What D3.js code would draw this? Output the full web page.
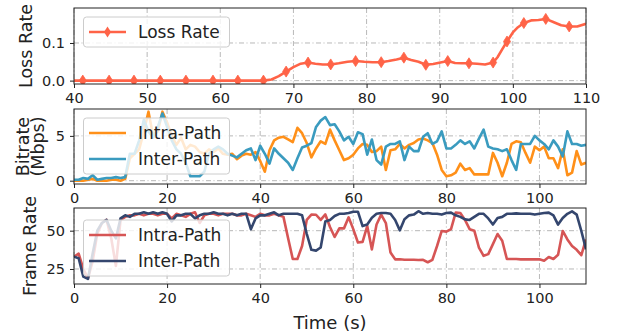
<!DOCTYPE html>
<html>
<head>
<meta charset="utf-8">
<script src="https://cdn.jsdelivr.net/npm/d3@7"></script>
<style>
  body { margin: 0; background: #fff; }
  svg { display: block; font-family: "DejaVu Sans", sans-serif; }
</style>
</head>
<body>
<svg id="chart" width="618" height="335"></svg>
<script>
// loss rate samples (time in s, rate)
const lossTime = [40.0, 41.2, 42.4, 43.6, 44.8, 45.9, 47.1, 48.2, 49.4, 50.6, 51.8, 53.0, 54.1, 55.3, 56.5, 57.8,
  59.0, 60.1, 61.3, 62.4, 63.6, 64.7, 65.9, 67.0, 68.0, 69.0, 70.0, 71.0, 72.0, 73.0, 74.0, 75.1, 76.2, 77.4,
  78.5, 79.7, 80.8, 82.0, 83.0, 84.1, 85.1, 86.1, 87.1, 88.1, 89.1, 90.1, 91.1, 92.1, 93.0, 94.0, 95.1, 96.2,
  97.3, 97.9, 98.6, 99.2, 100.0, 100.7, 101.5, 102.5, 103.5, 104.5, 105.6, 106.6, 107.7, 108.8, 110.0];
const lossRate = [0, 0, 0, 0, 0, 0, 0, 0, 0, 0, 0, 0, 0, 0, 0, 0,
  0, 0, 0, 0, 0, 0, 0, 0.003, 0.012, 0.024, 0.036, 0.045, 0.048, 0.045, 0.043, 0.043, 0.046, 0.05,
  0.052, 0.05, 0.049, 0.049, 0.052, 0.056, 0.061, 0.055, 0.05, 0.042, 0.044, 0.048, 0.052, 0.047, 0.046, 0.046, 0.045, 0.043,
  0.048, 0.062, 0.085, 0.104, 0.128, 0.142, 0.153, 0.16, 0.161, 0.164, 0.155, 0.147, 0.144, 0.144, 0.151];
const lossMarkEvery = 3;

// bitrate / frame rate sampled every second, 0..110 s
const bitrateIntra = [0, 0, 0, 0.1, 0.2, 0, 0, 0, 0.1, 0.1, 0, 0.2, 2.5, 3.0, 3.5, 5.5, 7.7, 5.0, 5.5, 7.7,
  6.5, 5.0, 4.0, 4.8, 3.5, 4.0, 3.8, 3.2, 3.0, 3.5, 3.2, 3.6, 3.0, 2.9, 3.0, 2.4, 2.8, 3.0, 2.9, 3.2,
  2.2, 1.0, 3.4, 4.5, 4.8, 4.9, 4.6, 4.3, 5.9, 5.3, 4.2, 2.6, 3.6, 4.4, 4.1, 5.7, 4.5, 3.4, 2.3, 2.5,
  2.9, 3.6, 4.1, 4.0, 3.2, 3.3, 3.8, 1.2, 3.4, 3.5, 4.1, 3.6, 4.0, 4.2, 4.6, 4.7, 4.5, 4.2, 2.9, 1.2,
  0.5, 0.6, 0.9, 1.9, 1.2, 1.4, 0.7, 0.7, 0.7, 0.7, 3.1, 2.0, 0.5, 2.0, 4.1, 4.4, 4.3, 3.1, 2.0, 3.8,
  3.4, 3.8, 2.5, 2.5, 1.4, 3.5, 0.6, 0.9, 3.3, 1.8, 2.0];
const bitrateInter = [0.1, 0.1, 0.3, 0.2, 0.6, 0.1, 0.2, 0.3, 0.3, 0.4, 0.3, 0.4, 3.0, 3.0, 4.5, 6.8, 5.5, 4.8, 6.0, 7.5,
  6.0, 4.5, 3.5, 3.0, 2.0, 0.5, 0.5, 0.5, 1.0, 3.0, 3.5, 3.8, 3.5, 3.0, 2.8, 2.6, 3.0, 3.4, 3.6, 2.3,
  3.9, 3.0, 1.9, 3.6, 3.0, 2.5, 2.0, 1.2, 2.5, 3.7, 3.9, 4.2, 6.0, 6.7, 7.1, 6.2, 6.3, 5.5, 4.5, 4.9,
  4.1, 5.4, 5.2, 2.9, 4.6, 2.3, 1.8, 3.8, 4.1, 4.1, 4.4, 2.3, 3.8, 3.3, 3.3, 4.9, 5.3, 4.1, 4.4, 5.5,
  3.6, 3.6, 4.0, 4.5, 4.1, 4.4, 3.6, 4.7, 5.7, 3.8, 3.6, 3.5, 3.3, 3.5, 2.3, 1.2, 4.1, 4.1, 4.1, 5.0,
  4.5, 4.1, 3.5, 4.5, 3.8, 2.7, 5.5, 4.1, 4.1, 3.9, 4.0];
const fpsIntra = [33, 35, 25, 19, 30, 48, 55, 57, 45, 27, 57, 59, 60, 60, 61, 60, 61, 61, 60, 61,
  61, 58, 61, 60, 59, 61, 62, 55, 60, 61, 61, 60, 61, 61, 61, 60, 60, 61, 60, 59,
  61, 60, 60, 61, 60, 59, 45, 31.5, 31.5, 40, 57, 60.5, 60.4, 57, 60.6, 52.4, 45.9, 51.5, 51.5, 58.7,
  51, 42.3, 42.7, 53, 37.8, 54, 60.5, 55, 35.7, 31.3, 31.3, 31, 31, 31, 30.9, 31, 29.4, 31, 40, 49.8,
  49.4, 51, 61.8, 61.5, 57, 51, 50, 39, 33.6, 34.7, 41.2, 47.8, 43.4, 31.5, 31.5, 31.5, 31.3, 31.3, 31.3, 31.3,
  31.3, 30.4, 32.8, 31.5, 34.3, 49.8, 44.3, 40, 37.5, 34, 44.3];
const fpsInter = [33, 32, 20, 18.5, 35, 50, 55, 57, 50, 45, 58, 60, 59, 61, 61, 62, 61, 62, 61, 62,
  61, 56, 60, 60, 61, 61, 58, 60, 61, 61, 62, 61, 61, 60, 61, 60, 61, 61, 51, 58,
  60, 60, 61, 62, 60, 61, 61, 61, 61, 60, 48, 37.5, 37, 39, 56, 57, 59.6, 61, 61, 61.5,
  62.4, 62.4, 53, 54, 58.5, 61, 61.5, 61.5, 61, 57, 50.2, 57.5, 60, 60.5, 62.7, 61, 61.5, 61, 61, 60.5,
  61.5, 61.8, 60, 59, 57.4, 57, 59, 61, 61, 58, 54, 58.3, 59, 61, 61, 61.3, 61, 61, 61, 60.5,
  61, 61.5, 61.8, 60, 54, 58.3, 61, 62.6, 60.5, 49.8, 37.8];

const lossTicksX = [40, 50, 60, 70, 80, 90, 100, 110];
const lossTicksY = [0.0, 0.1];
const timeTicks = [0, 20, 40, 60, 80, 100];
const bitrateTicks = [0, 5];
const fpsTicks = [25, 50];

const svg = d3.select('#chart');
const left = 74, right = 586;
const gridDash = '5,2.5,1,2.5';

function drawPanel(opt) {
  const x = d3.scaleLinear().domain(opt.xDomain).range([left, right]);
  const y = d3.scaleLinear().domain(opt.yDomain).range([opt.bottom, opt.top]);
  const g = svg.append('g');

  // grid
  g.selectAll('.gx').data(opt.xTicks).enter().append('line')
    .attr('x1', d => x(d)).attr('x2', d => x(d))
    .attr('y1', opt.top).attr('y2', opt.bottom)
    .attr('stroke', '#b0b0b0').attr('stroke-width', 0.9).attr('stroke-dasharray', gridDash);
  g.selectAll('.gy').data(opt.yTicks).enter().append('line')
    .attr('x1', left).attr('x2', right)
    .attr('y1', d => y(d)).attr('y2', d => y(d))
    .attr('stroke', '#b0b0b0').attr('stroke-width', 0.9).attr('stroke-dasharray', gridDash);

  // series
  const clipId = 'clip' + opt.top;
  svg.append('clipPath').attr('id', clipId).append('rect')
    .attr('x', left).attr('y', opt.top).attr('width', right - left).attr('height', opt.bottom - opt.top);
  const lines = g.append('g').attr('clip-path', `url(#${clipId})`);
  opt.series.forEach(s => {
    const pts = s.values.map((v, i) => [s.times ? s.times[i] : i, v]);
    lines.append('path').datum(pts)
      .attr('fill', 'none').attr('stroke', s.color).attr('stroke-width', 2.6)
      .attr('stroke-linejoin', 'round')
      .attr('d', d3.line().x(d => x(d[0])).y(d => y(d[1])));
    if (s.markEvery) {
      lines.selectAll(null).data(pts.filter((d, i) => i % s.markEvery === 1)).enter()
        .append('path')
        .attr('transform', d => `translate(${x(d[0])},${y(d[1])})`)
        .attr('d', 'M0,-5.5L3.5,0L0,5.5L-3.5,0Z')
        .attr('fill', s.color).attr('stroke', s.color).attr('stroke-width', 0.8);
    }
  });

  // axes
  const ax = g.append('g').attr('transform', `translate(0,${opt.bottom})`)
    .call(d3.axisBottom(x).tickValues(opt.xTicks).tickSize(4).tickPadding(4).tickSizeOuter(0));
  const ay = g.append('g').attr('transform', `translate(${left},0)`)
    .call(d3.axisLeft(y).tickValues(opt.yTicks).tickFormat(opt.yFormat).tickSize(4).tickPadding(5).tickSizeOuter(0));
  [ax, ay].forEach(a => {
    a.select('.domain').remove();
    a.selectAll('line').attr('stroke', '#222').attr('stroke-width', 1);
    a.selectAll('text').attr('font-size', 14.5).attr('fill', '#222')
      .attr('font-family', '"DejaVu Sans", sans-serif');
  });
  ax.selectAll('text').attr('dy', '0.75em');

  g.append('rect').attr('x', left).attr('y', opt.top)
    .attr('width', right - left).attr('height', opt.bottom - opt.top)
    .attr('fill', 'none').attr('stroke', '#222').attr('stroke-width', 1);

  // y label
  const cy = (opt.top + opt.bottom) / 2;
  opt.yLabel.forEach((t, i) => {
    svg.append('text')
      .attr('transform', `translate(${opt.labelX[i]},${cy}) rotate(-90)`)
      .attr('text-anchor', 'middle').attr('font-size', 17.5).attr('fill', '#222')
      .text(t);
  });

  // legend
  const lg = svg.append('g');
  const lh = opt.series.length * 26 + 4;
  lg.append('rect').attr('x', 83.5).attr('y', opt.legendTop).attr('width', 146).attr('height', lh)
    .attr('rx', 3).attr('fill', 'rgba(255,255,255,0.8)').attr('stroke', '#cccccc');
  opt.series.forEach((s, i) => {
    const ly = opt.legendTop + 15 + i * 26;
    lg.append('line').attr('x1', 89).attr('x2', 126).attr('y1', ly).attr('y2', ly)
      .attr('stroke', s.color).attr('stroke-width', 2.6);
    if (s.markEvery) {
      lg.append('path').attr('transform', `translate(107.5,${ly})`)
        .attr('d', 'M0,-5.5L3.5,0L0,5.5L-3.5,0Z').attr('fill', s.color);
    }
    lg.append('text').attr('x', 138).attr('y', ly).attr('dy', '0.36em')
      .attr('font-size', 17).attr('fill', '#222').text(s.name);
  });
}

drawPanel({
  top: 8, bottom: 84, xDomain: [40, 110], yDomain: [-0.009, 0.193],
  xTicks: lossTicksX, yTicks: lossTicksY, yFormat: d3.format('.1f'),
  yLabel: ['Loss Rate'], labelX: [31.5], legendTop: 17,
  series: [{ name: 'Loss Rate', times: lossTime, values: lossRate, color: '#ff6347', markEvery: lossMarkEvery }]
});

drawPanel({
  top: 109, bottom: 184, xDomain: [0, 110], yDomain: [-0.37, 8.0],
  xTicks: timeTicks, yTicks: bitrateTicks, yFormat: d3.format('d'),
  yLabel: ['Bitrate', '(Mbps)'], labelX: [28.5, 44], legendTop: 118,
  series: [
    { name: 'Intra-Path', values: bitrateIntra, color: '#ff9019' },
    { name: 'Inter-Path', values: bitrateInter, color: '#3a9bbf' }
  ]
});

drawPanel({
  top: 208, bottom: 284, xDomain: [0, 110], yDomain: [15.2, 64.8],
  xTicks: timeTicks, yTicks: fpsTicks, yFormat: d3.format('d'),
  yLabel: ['Frame Rate'], labelX: [35.5], legendTop: 220,
  series: [
    { name: 'Intra-Path', values: fpsIntra, color: '#d65555' },
    { name: 'Inter-Path', values: fpsInter, color: '#34466e' }
  ]
});

svg.append('text').attr('x', (left + right) / 2).attr('y', 329)
  .attr('text-anchor', 'middle').attr('font-size', 18).attr('fill', '#222')
  .text('Time (s)');
</script>
</body>
</html>
